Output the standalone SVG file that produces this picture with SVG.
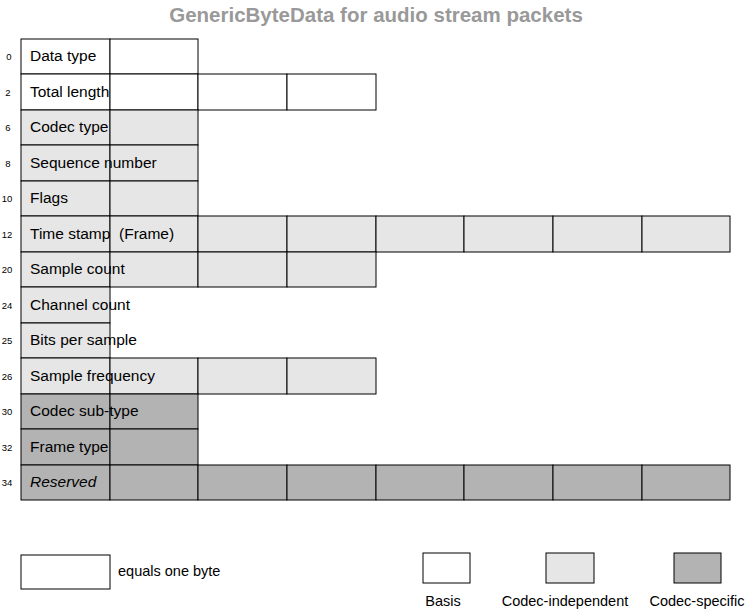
<svg xmlns="http://www.w3.org/2000/svg" width="745" height="609" viewBox="0 0 745 609">
<style>
text{font-family:"Liberation Sans",Arial,sans-serif;fill:#000}
.t{font-size:15.5px}
.n{font-size:9.5px}
.l{font-size:14.5px}
rect{stroke:#000;stroke-width:1}
.w{fill:#fff}.g{fill:#e6e6e6}.d{fill:#b3b3b3}
</style>
<rect width="745" height="609" style="fill:#fff;stroke:none"/>
<text x="376" y="22" text-anchor="middle" style="font-size:20.5px;font-weight:bold;fill:#999">GenericByteData for audio stream packets</text>
<g id="cells">
<rect class="w" x="21" y="39" width="89" height="35"/><rect class="w" x="110" y="39" width="88" height="35"/>
<rect class="w" x="21" y="74" width="89" height="36"/><rect class="w" x="110" y="74" width="88" height="36"/><rect class="w" x="198" y="74" width="89" height="36"/><rect class="w" x="287" y="74" width="89" height="36"/>
<rect class="g" x="21" y="110" width="89" height="35"/><rect class="g" x="110" y="110" width="88" height="35"/>
<rect class="g" x="21" y="145" width="89" height="36"/><rect class="g" x="110" y="145" width="88" height="36"/>
<rect class="g" x="21" y="181" width="89" height="35"/><rect class="g" x="110" y="181" width="88" height="35"/>
<rect class="g" x="21" y="216" width="89" height="36"/><rect class="g" x="110" y="216" width="88" height="36"/><rect class="g" x="198" y="216" width="89" height="36"/><rect class="g" x="287" y="216" width="89" height="36"/><rect class="g" x="376" y="216" width="88" height="36"/><rect class="g" x="464" y="216" width="89" height="36"/><rect class="g" x="553" y="216" width="89" height="36"/><rect class="g" x="642" y="216" width="88" height="36"/>
<rect class="g" x="21" y="252" width="89" height="35"/><rect class="g" x="110" y="252" width="88" height="35"/><rect class="g" x="198" y="252" width="89" height="35"/><rect class="g" x="287" y="252" width="89" height="35"/>
<rect class="g" x="21" y="287" width="89" height="36"/>
<rect class="g" x="21" y="323" width="89" height="35"/>
<rect class="g" x="21" y="358" width="89" height="36"/><rect class="g" x="110" y="358" width="88" height="36"/><rect class="g" x="198" y="358" width="89" height="36"/><rect class="g" x="287" y="358" width="89" height="36"/>
<rect class="d" x="21" y="394" width="89" height="35"/><rect class="d" x="110" y="394" width="88" height="35"/>
<rect class="d" x="21" y="429" width="89" height="36"/><rect class="d" x="110" y="429" width="88" height="36"/>
<rect class="d" x="21" y="465" width="89" height="35"/><rect class="d" x="110" y="465" width="88" height="35"/><rect class="d" x="198" y="465" width="89" height="35"/><rect class="d" x="287" y="465" width="89" height="35"/><rect class="d" x="376" y="465" width="88" height="35"/><rect class="d" x="464" y="465" width="89" height="35"/><rect class="d" x="553" y="465" width="89" height="35"/><rect class="d" x="642" y="465" width="88" height="35"/>
</g>
<g id="labels">
<text class="t" x="30" y="61">Data type</text>
<text class="t" x="30" y="97">Total length</text>
<text class="t" x="30" y="132">Codec type</text>
<text class="t" x="30" y="168">Sequence number</text>
<text class="t" x="30" y="203">Flags</text>
<text class="t" x="30" y="239" xml:space="preserve">Time stamp  (Frame)</text>
<text class="t" x="30" y="274">Sample count</text>
<text class="t" x="30" y="310">Channel count</text>
<text class="t" x="30" y="345">Bits per sample</text>
<text class="t" x="30" y="381">Sample frequency</text>
<text class="t" x="30" y="416">Codec sub-type</text>
<text class="t" x="30" y="452">Frame type</text>
<text class="t" x="30" y="487" style="font-style:italic">Reserved</text>
</g>
<g id="offsets">
<text class="n" x="9" y="60" text-anchor="middle">0</text>
<text class="n" x="8" y="96" text-anchor="middle">2</text>
<text class="n" x="8" y="131" text-anchor="middle">6</text>
<text class="n" x="8" y="167" text-anchor="middle">8</text>
<text class="n" x="7" y="202" text-anchor="middle">10</text>
<text class="n" x="7" y="238" text-anchor="middle">12</text>
<text class="n" x="7" y="273" text-anchor="middle">20</text>
<text class="n" x="7" y="309" text-anchor="middle">24</text>
<text class="n" x="7" y="344" text-anchor="middle">25</text>
<text class="n" x="7" y="380" text-anchor="middle">26</text>
<text class="n" x="7" y="415" text-anchor="middle">30</text>
<text class="n" x="7" y="451" text-anchor="middle">32</text>
<text class="n" x="7" y="486" text-anchor="middle">34</text>
</g>
<g id="legend">
<rect class="w" x="21" y="555" width="89" height="34"/>
<text class="l" x="118" y="576">equals one byte</text>
<rect class="w" x="423" y="553" width="47" height="30"/>
<text class="l" x="443" y="606" text-anchor="middle">Basis</text>
<rect class="g" x="546" y="553" width="48" height="30"/>
<text class="l" x="565" y="606" text-anchor="middle">Codec-independent</text>
<rect class="d" x="674" y="553" width="47" height="30"/>
<text class="l" x="697" y="606" text-anchor="middle">Codec-specific</text>
</g>
</svg>
